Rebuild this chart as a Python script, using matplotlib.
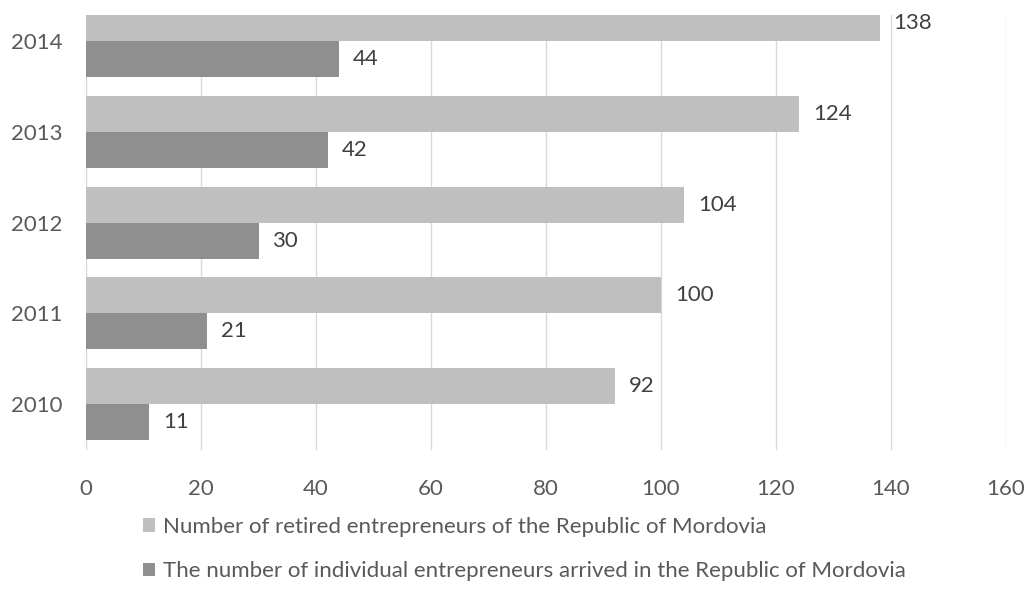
import matplotlib.pyplot as plt
import numpy as np

years = ['2010', '2011', '2012', '2013', '2014']
retired = [92, 100, 104, 124, 138]
arrived = [11, 21, 30, 42, 44]
labels = ['Number of retired entrepreneurs of the Republic of Mordovia',
          'The number of individual entrepreneurs arrived in the Republic of Mordovia']

plt.rcParams['font.family'] = ['Lato', 'DejaVu Sans']

fig = plt.figure(figsize=(10.29, 6.07), dpi=100)
ax = fig.add_axes([86 / 1029, 1 - 450 / 607, 920 / 1029, 435 / 607])

index = np.arange(len(years))
h = 0.396
b1 = ax.barh(index + h / 2, retired, height=h, color='#bfbfbf', label=labels[0], zorder=2)
b2 = ax.barh(index - h / 2, arrived, height=h, color='#8f8f8f', label=labels[1], zorder=2)

# value labels right of each bar
for bars, vals in ((b1, retired), (b2, arrived)):
    for rect, v in zip(bars, vals):
        ax.annotate(str(v), (v, rect.get_y() + rect.get_height() / 2),
                    xytext=(10, 0), textcoords='offset points', va='center', ha='left',
                    fontsize=16, color='#404040', annotation_clip=False)

ax.set_xlim(0, 160)
ax.set_ylim(-0.505, 4.286)
ax.set_xticks(np.arange(0, 161, 20))
ax.set_yticks(index)
ax.set_yticklabels(years)
ax.grid(axis='x', color='#d9d9d9', linewidth=1, zorder=0)
for s in ax.spines.values():
    s.set_visible(False)
ax.tick_params(axis='both', length=0, labelsize=16, labelcolor='#595959')
ax.tick_params(axis='x', pad=21)
ax.tick_params(axis='y', pad=17)

fig.legend(handles=[b1, b2], loc='upper left', bbox_to_anchor=(143 / 1029, 1 - 517 / 607),
           frameon=False, fontsize=16, handlelength=0.55, handleheight=0.55,
           handletextpad=0.36, labelspacing=1.1, borderpad=0, borderaxespad=0,
           labelcolor='#595959')

fig.savefig('out.png', dpi=100)
